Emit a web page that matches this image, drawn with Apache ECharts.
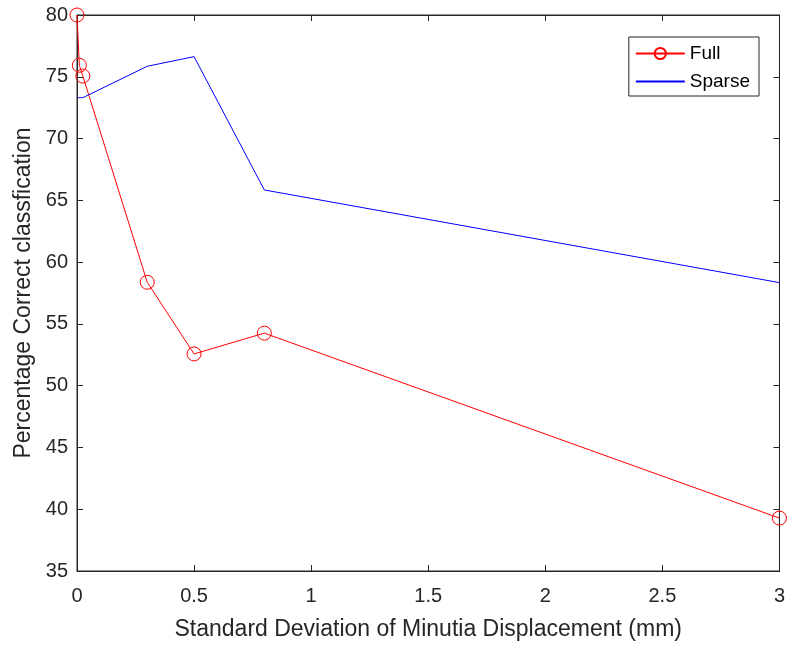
<!DOCTYPE html>
<html><head><meta charset="utf-8">
<script src="https://cdn.jsdelivr.net/npm/echarts@6/dist/echarts.min.js"></script>
<style>html,body{margin:0;padding:0;background:#fff}#c{width:788px;height:646px}</style>
</head><body><div id="c"></div>
<script>
var xFull = [0, 0.01, 0.025, 0.3, 0.5, 0.8, 3];
var yFull = [80, 75.93, 75.06, 58.37, 52.57, 54.25, 39.28];
var xSparse = [0, 0.01, 0.025, 0.3, 0.5, 0.8, 3];
var ySparse = [73.31, 73.31, 73.31, 75.85, 76.63, 65.84, 58.34];
var xTicks = [0, 0.5, 1, 1.5, 2, 2.5, 3];
var yTicks = [35, 40, 45, 50, 55, 60, 65, 70, 75, 80];
var seriesNames = ['Full', 'Sparse'];
var xName = 'Standard Deviation of Minutia Displacement (mm)';
var yName = 'Percentage Correct classfication';

function pairs(xs, ys){ return xs.map(function(x,i){return [x, ys[i]];}); }
var FONT = 'Liberation Sans, Arial, Helvetica, sans-serif';
var axisCol = '#262626';
var RED = '#ff0000', BLUE = '#0000ff';
var chart = echarts.init(document.getElementById('c'));
var common = {
  axisLine:{show:true,onZero:false,lineStyle:{color:axisCol,width:1}},
  axisTick:{show:true,inside:true,length:6,lineStyle:{color:axisCol}},
  splitLine:{show:false}
};
chart.setOption({
  animation:false,
  backgroundColor:'#fff',
  textStyle:{fontFamily:FONT},
  grid:{left:77,right:8,top:15,bottom:75,show:true,borderColor:axisCol,borderWidth:1},
  legend:{
    data:seriesNames,
    orient:'vertical', right:29, top:37,
    itemWidth:49, itemHeight:14, itemGap:9,
    padding:[7,9,5,6],
    borderColor:axisCol, borderWidth:1, backgroundColor:'#fff',
    textStyle:{fontFamily:FONT,fontSize:19,color:'#000'}
  },
  xAxis:[
    Object.assign({type:'value',min:xTicks[0],max:xTicks[xTicks.length-1],interval:xTicks[1]-xTicks[0],
      name:xName,nameLocation:'middle',nameGap:47,
      nameTextStyle:{fontFamily:FONT,fontSize:23,color:axisCol},
      axisLabel:{fontFamily:FONT,fontSize:20,color:axisCol,margin:15}}, common),
    Object.assign({type:'value',position:'top',min:xTicks[0],max:xTicks[xTicks.length-1],interval:xTicks[1]-xTicks[0],
      axisLabel:{show:false}}, common)
  ],
  yAxis:[
    Object.assign({type:'value',min:yTicks[0],max:yTicks[yTicks.length-1],interval:yTicks[1]-yTicks[0],
      name:yName,nameLocation:'middle',nameGap:42,
      nameTextStyle:{fontFamily:FONT,fontSize:23,color:axisCol},
      axisLabel:{fontFamily:FONT,fontSize:20,color:axisCol,margin:9}}, common),
    Object.assign({type:'value',position:'right',min:yTicks[0],max:yTicks[yTicks.length-1],interval:yTicks[1]-yTicks[0],
      axisLabel:{show:false}}, common)
  ],
  series:[
    {name:seriesNames[0],type:'line',data:pairs(xFull,yFull),symbol:'circle',symbolSize:14,showAllSymbol:true,
      lineStyle:{color:RED,width:1},
      itemStyle:{color:'rgba(255,255,255,0)',borderColor:RED,borderWidth:1},
      emphasis:{disabled:true}},
    {name:seriesNames[1],type:'line',data:pairs(xSparse,ySparse),symbol:'none',
      lineStyle:{color:BLUE,width:1},
      itemStyle:{color:'rgba(0,0,255,0)',borderColor:'rgba(0,0,255,0)',borderWidth:0},
      emphasis:{disabled:true}}
  ]
});
</script></body></html>
